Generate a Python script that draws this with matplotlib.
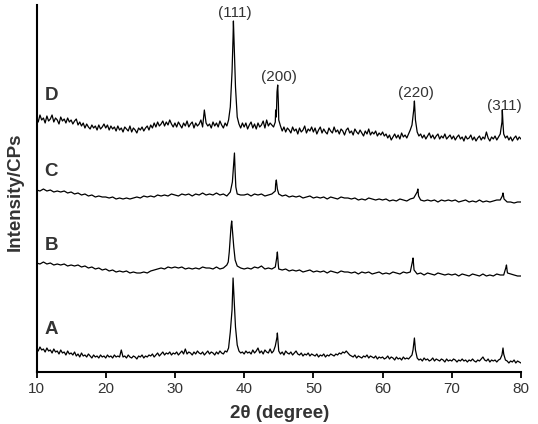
import numpy as np
import matplotlib
matplotlib.use("Agg")
import matplotlib.pyplot as plt

plt.rcParams['font.family'] = ['Liberation Sans', 'DejaVu Sans']

# 2-theta grids: 0.25 deg for the noisy scans (A, D), 0.5 deg for B and C
fine = np.arange(10, 80.001, 0.25)
coarse = np.arange(10, 80.001, 0.5)

# sample D (one row = 5 degrees)
d_grid = [255, 250, 257, 252, 254, 249, 256, 251, 253, 257, 250, 254, 252, 248, 255, 251, 253, 249, 254, 250,
          252, 248, 251, 253, 247, 250, 246, 249, 244, 248, 245, 243, 247, 244, 246, 242, 247, 243, 245, 248,
          244, 247, 242, 246, 243, 245, 241, 246, 242, 244, 240, 245, 243, 241, 246, 240, 244, 242, 239, 244,
          242, 245, 241, 244, 246, 242, 247, 244, 249, 245, 250, 246, 248, 251, 246, 250, 247, 252, 248, 245,
          249, 245, 250, 247, 244, 249, 246, 251, 245, 248, 250, 244, 249, 246, 248, 252, 245, 262, 249, 246,
          248, 244, 250, 246, 249, 245, 251, 247, 244, 249, 246, 252, 265, 300, 340, 285, 255, 248, 244, 249,
          245, 249, 243, 247, 250, 244, 248, 243, 249, 245, 247, 251, 244, 252, 246, 249, 247, 245, 250, 280,
          252, 246, 241, 245, 240, 244, 242, 239, 245, 241, 243, 238, 244, 240, 242, 246, 239, 243, 241, 245,
          240, 244, 238, 242, 245, 239, 243, 240, 238, 244, 241, 239, 245, 240, 242, 238, 243, 241, 237, 242,
          244, 239, 241, 237, 243, 240, 238, 242, 239, 236, 241, 238, 243, 237, 240, 238, 241, 236, 239, 237,
          240, 236, 238, 234, 237, 232, 235, 238, 234, 237, 233, 239, 235, 237, 234, 238, 242, 247, 262, 252,
          240, 236, 238, 234, 237, 233, 236, 239, 234, 237, 233, 236, 238, 233, 236, 234, 238, 233, 235, 237,
          233, 236, 232, 235, 237, 233, 235, 231, 236, 233, 234, 237, 232, 235, 231, 234, 236, 232, 235, 233,
          240, 234, 231, 235, 233, 236, 232, 235, 238, 250, 238, 234, 236, 232, 235, 231, 234, 236, 232, 235,
          233]
d_px = [38.4, 38.45, 38.6, 44.55, 44.65, 44.85, 44.95, 64.6, 64.7, 77.3, 77.4]
d_py = [335, 351, 320, 262, 255, 287, 268, 271, 258, 262, 248]

# sample C
c_grid = [182, 181, 183, 181, 182, 180, 181, 180, 181, 179,
          180, 178, 179, 177, 178, 176, 177, 175, 176, 175,
          175, 174, 175, 173, 174, 173, 174, 173, 174, 175,
          174, 176, 175, 176, 175, 177, 176, 177, 176, 178,
          177, 176, 178, 177, 178, 176, 178, 177, 179, 177,
          178, 177, 179, 177, 178, 176, 180, 210, 178, 177,
          177, 178, 176, 178, 177, 178, 176, 177, 178, 181,
          178, 176, 177, 175, 176, 175, 176, 174, 175, 176,
          174, 175, 174, 175, 173, 175, 174, 173, 175, 174,
          174, 173, 174, 172, 173, 172, 174, 173, 172, 173,
          172, 173, 171, 172, 171, 173, 172, 171, 173, 174,
          180, 172, 171, 172, 171, 172, 170, 172, 171, 172,
          171, 172, 170, 171, 172, 170, 171, 170, 172, 170,
          171, 170, 171, 172, 172, 175, 170, 170, 169, 170,
          170]
c_px = [38.3, 38.45, 38.6, 38.7, 38.8, 44.55, 44.65, 44.8,
        65.1, 65.2, 77.3, 77.4, 77.55]
c_py = [190, 205, 219, 200, 185, 188, 192, 183,
        183, 176, 176, 179, 173]

# sample B
b_grid = [109, 108, 110, 108, 109, 107, 108, 107, 108, 106,
          107, 106, 107, 105, 106, 104, 105, 103, 104, 102,
          103, 101, 102, 100, 101, 100, 101, 99, 100, 99,
          99, 100, 99, 101, 102, 103, 104, 103, 105, 104,
          105, 104, 105, 103, 104, 103, 104, 103, 105, 104,
          104, 103, 105, 103, 104, 107, 135, 125, 106, 104,
          103, 104, 103, 105, 104, 106, 103, 104, 103, 105,
          103, 102, 103, 101, 102, 101, 102, 100, 101, 102,
          100, 101, 100, 101, 99, 101, 100, 99, 101, 100,
          100, 99, 100, 98, 100, 99, 100, 98, 99, 100,
          98, 99, 98, 100, 99, 98, 100, 99, 100, 106,
          98, 99, 97, 99, 98, 97, 99, 98, 97, 98,
          97, 98, 96, 98, 97, 96, 98, 97, 96, 98,
          96, 97, 96, 98, 97, 97, 101, 98, 97, 96,
          96]
b_px = [37.7, 37.85, 38.1, 38.2, 38.3, 38.7, 44.7, 44.8, 44.95,
        64.3, 64.4, 64.55, 77.8, 77.9, 78.05]
b_py = [110, 120, 145, 151, 142, 112, 114, 120, 106,
        110, 114, 102, 104, 107, 99]

# sample A
a_grid = [24, 21, 25, 22, 23, 20, 24, 21, 22, 19, 23, 20, 21, 18, 22, 19, 20, 17, 21, 18,
          19, 17, 20, 16, 18, 15, 19, 16, 17, 15, 18, 16, 14, 17, 15, 16, 14, 17, 15, 16,
          14, 17, 15, 16, 14, 17, 15, 16, 15, 22, 15, 16, 14, 17, 15, 14, 16, 15, 13, 16,
          15, 17, 14, 16, 15, 17, 16, 18, 15, 17, 19, 16, 18, 20, 17, 19, 18, 20, 17, 19,
          18, 20, 17, 19, 21, 18, 23, 18, 20, 19, 17, 20, 18, 21, 19, 18, 20, 17, 19, 21,
          18, 20, 19, 17, 20, 18, 21, 19, 18, 21, 20, 24, 40, 62, 80, 45, 27, 21, 19, 20,
          18, 21, 19, 20, 18, 22, 19, 21, 24, 19, 21, 18, 22, 20, 19, 23, 19, 21, 26, 35,
          21, 18, 20, 17, 21, 19, 18, 20, 17, 19, 21, 18, 17, 19, 16, 18, 17, 19, 16, 18,
          17, 16, 18, 15, 17, 16, 18, 15, 17, 16, 18, 17, 16, 18, 17, 19, 18, 20, 19, 21,
          19, 17, 16, 15, 17, 14, 16, 15, 14, 16, 15, 17, 14, 16, 15, 14, 16, 13, 15, 14,
          15, 13, 14, 16, 13, 15, 14, 12, 15, 13, 14, 12, 15, 13, 14, 13, 15, 17, 28, 22,
          14, 12, 13, 11, 14, 12, 13, 11, 12, 14, 11, 13, 12, 11, 13, 12, 10, 13, 11, 12,
          11, 13, 12, 10, 12, 11, 13, 11, 12, 10, 12, 11, 13, 11, 10, 12, 11, 13, 15, 12,
          11, 13, 10, 12, 11, 12, 10, 12, 13, 17, 18, 12, 11, 9, 11, 10, 12, 9, 11, 10,
          9]
a_px = [38.4, 38.6, 44.8, 44.95, 64.4, 64.6, 77.4]
a_py = [94, 65, 39, 26, 22, 34, 24]

samples = ['A', 'B', 'C', 'D']
grids = [fine, coarse, coarse, fine]
values = [a_grid, b_grid, c_grid, d_grid]
extra_x = [a_px, b_px, c_px, d_px]
extra_y = [a_py, b_py, c_py, d_py]
label_y = [42, 126, 200, 277]

planes = ['(111)', '(200)', '(220)', '(311)']
plane_x = [38.6, 45.0, 64.8, 77.6]
plane_y = [359, 295, 279, 266]

fig = plt.figure(figsize=(5.38, 4.24), dpi=100)
ax = fig.add_axes([36.5 / 538, 52 / 424, 484.5 / 538, 367 / 424])

for name, gx, g, ex, ey, ly in zip(samples, grids, values, extra_x, extra_y, label_y):
    x = np.concatenate([gx, ex])
    y = np.concatenate([g, ey])
    order = np.argsort(x, kind='stable')
    ax.plot(x[order], y[order], color='black', lw=0.9)
    ax.text(12.1, ly, name, fontsize=13.5, fontweight='bold', color='#333333',
            ha='center', va='center')

for p, px, py in zip(planes, plane_x, plane_y):
    ax.text(px, py, p, fontsize=11, color='#333333', ha='center', va='center')

ax.set_xlim(10, 80)
ax.set_ylim(0, 367)
ax.set_xticks(range(10, 81, 10))
ax.set_yticks([])
ax.spines['top'].set_visible(False)
ax.spines['right'].set_visible(False)
ax.spines['left'].set_linewidth(1.5)
ax.spines['bottom'].set_linewidth(1.5)
ax.tick_params(axis='x', direction='out', length=4, width=1.3, labelsize=11,
               labelcolor='#333333', pad=3)

fig.text(280 / 538, 1 - 414 / 424, '2θ (degree)', fontsize=13.5, fontweight='bold',
         color='#333333', ha='center', va='center')
fig.text(15 / 538, 1 - 192 / 424, 'Intensity/CPs', fontsize=13.5, fontweight='bold',
         color='#333333', ha='center', va='center', rotation=90)

fig.savefig('out.png', dpi=100)
